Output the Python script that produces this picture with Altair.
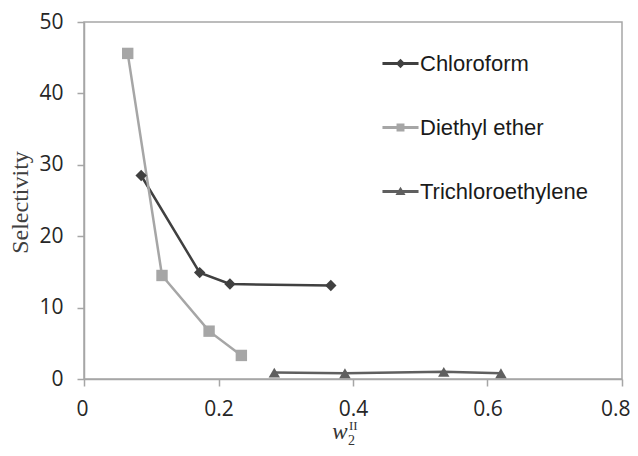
import altair as alt
import pandas as pd

series = ["Chloroform", "Diethyl ether", "Trichloroethylene"]
chloro_x = [0.085, 0.172, 0.217, 0.367]
chloro_y = [28.5, 14.9, 13.3, 13.1]
ether_x = [0.065, 0.116, 0.186, 0.234]
ether_y = [45.6, 14.5, 6.7, 3.3]
tce_x = [0.283, 0.388, 0.535, 0.620]
tce_y = [0.9, 0.8, 1.0, 0.8]

colors = ["#404040", "#a6a6a6", "#5f5f5f"]
shapes = ["diamond", "square", "triangle-up"]
legend_paths = [
    "M-1,-0.08H1V0.08H-1Z M-0.26,0L0,-0.27L0.26,0L0,0.27Z",
    "M-1,-0.08H1V0.08H-1Z M-0.22,-0.22H0.22V0.22H-0.22Z",
    "M-1,-0.08H1V0.08H-1Z M-0.28,0.2L0,-0.26L0.28,0.2Z",
]

rows = []
for name, xs, ys in zip(series, [chloro_x, ether_x, tce_x], [chloro_y, ether_y, tce_y]):
    for i, (xv, yv) in enumerate(zip(xs, ys)):
        rows.append({"series": name, "x": xv, "y": yv, "order": i})
df = pd.DataFrame(rows)

x_enc = alt.X("x:Q", scale=alt.Scale(domain=[0, 0.8], nice=False),
              axis=alt.Axis(values=[0, 0.2, 0.4, 0.6, 0.8], format="~g", title=None,
                            labelFlush=True, labelFlushOffset=8))
y_enc = alt.Y("y:Q", scale=alt.Scale(domain=[0, 50], nice=False),
              axis=alt.Axis(values=[0, 10, 20, 30, 40, 50], title="Selectivity",
                            labelFlush=False,
                            titleFont="Liberation Serif", titleFontSize=24,
                            titleFontWeight="normal", titleColor="#404040",
                            titleAngle=-90, titleX=-64, titleY=180,
                            titleAlign="center", titleBaseline="middle"))

color_scale = alt.Scale(domain=series, range=colors)

lines = alt.Chart(df).mark_line(strokeWidth=2.5).encode(
    x=x_enc, y=y_enc, order="order:Q",
    color=alt.Color("series:N", scale=color_scale, legend=None),
)
points = alt.Chart(df).mark_point(filled=True, opacity=1, size=130).encode(
    x="x:Q", y="y:Q",
    color=alt.Color("series:N", scale=color_scale, legend=None),
    shape=alt.Shape("series:N", scale=alt.Scale(domain=series, range=shapes), legend=None),
)
legend_layer = alt.Chart(df).mark_point(filled=True, opacity=1, size=0).encode(
    x="x:Q", y="y:Q",
    color=alt.Color("series:N", scale=color_scale,
                    legend=alt.Legend(title=None, orient="none", legendX=298, legendY=23,
                                      symbolSize=1300, symbolOpacity=1, labelFont="Liberation Sans",
                                      labelFontSize=22, labelColor="#1a1a1a", labelOffset=1,
                                      labelLimit=400, rowPadding=34, symbolStrokeWidth=0)),
    shape=alt.Shape("series:N", scale=alt.Scale(domain=series, range=legend_paths)),
)

title_df = pd.DataFrame({"t": ["w"]})
w_text = alt.Chart(title_df).mark_text(text="w", font="Liberation Serif", fontStyle="italic",
                                       fontSize=23, align="center", baseline="alphabetic",
                                       color="#333333").encode(x=alt.value(256), y=alt.value(417))
sub_text = alt.Chart(title_df).mark_text(text="2", font="Liberation Serif",
                                         fontSize=14, align="left", baseline="alphabetic",
                                         color="#333333").encode(x=alt.value(264), y=alt.value(423))
sup_text = alt.Chart(title_df).mark_text(text="II", font="Liberation Serif",
                                         fontSize=13, align="left", baseline="alphabetic",
                                         color="#333333").encode(x=alt.value(265), y=alt.value(408))

chart = alt.layer(lines, points, legend_layer, w_text, sub_text, sup_text).resolve_scale(
    shape="independent", color="independent"
).properties(
    width=538, height=357,
    autosize=alt.AutoSizeParams(type="none"),
    padding={"left": 76, "top": 14, "right": 8, "bottom": 69},
).configure_view(
    stroke="#a6a6a6", strokeWidth=1.5
).configure_axis(
    grid=False, domainColor="#a6a6a6", domainWidth=1.5, tickColor="#a6a6a6",
    tickWidth=1.5, tickSize=7, labelFont="Open Sans", labelFontSize=21,
    labelColor="#262626", labelPadding=12
).configure_axisY(labelPadding=14)

chart.save("out.html", embed_options={"renderer": "svg", "actions": False})
